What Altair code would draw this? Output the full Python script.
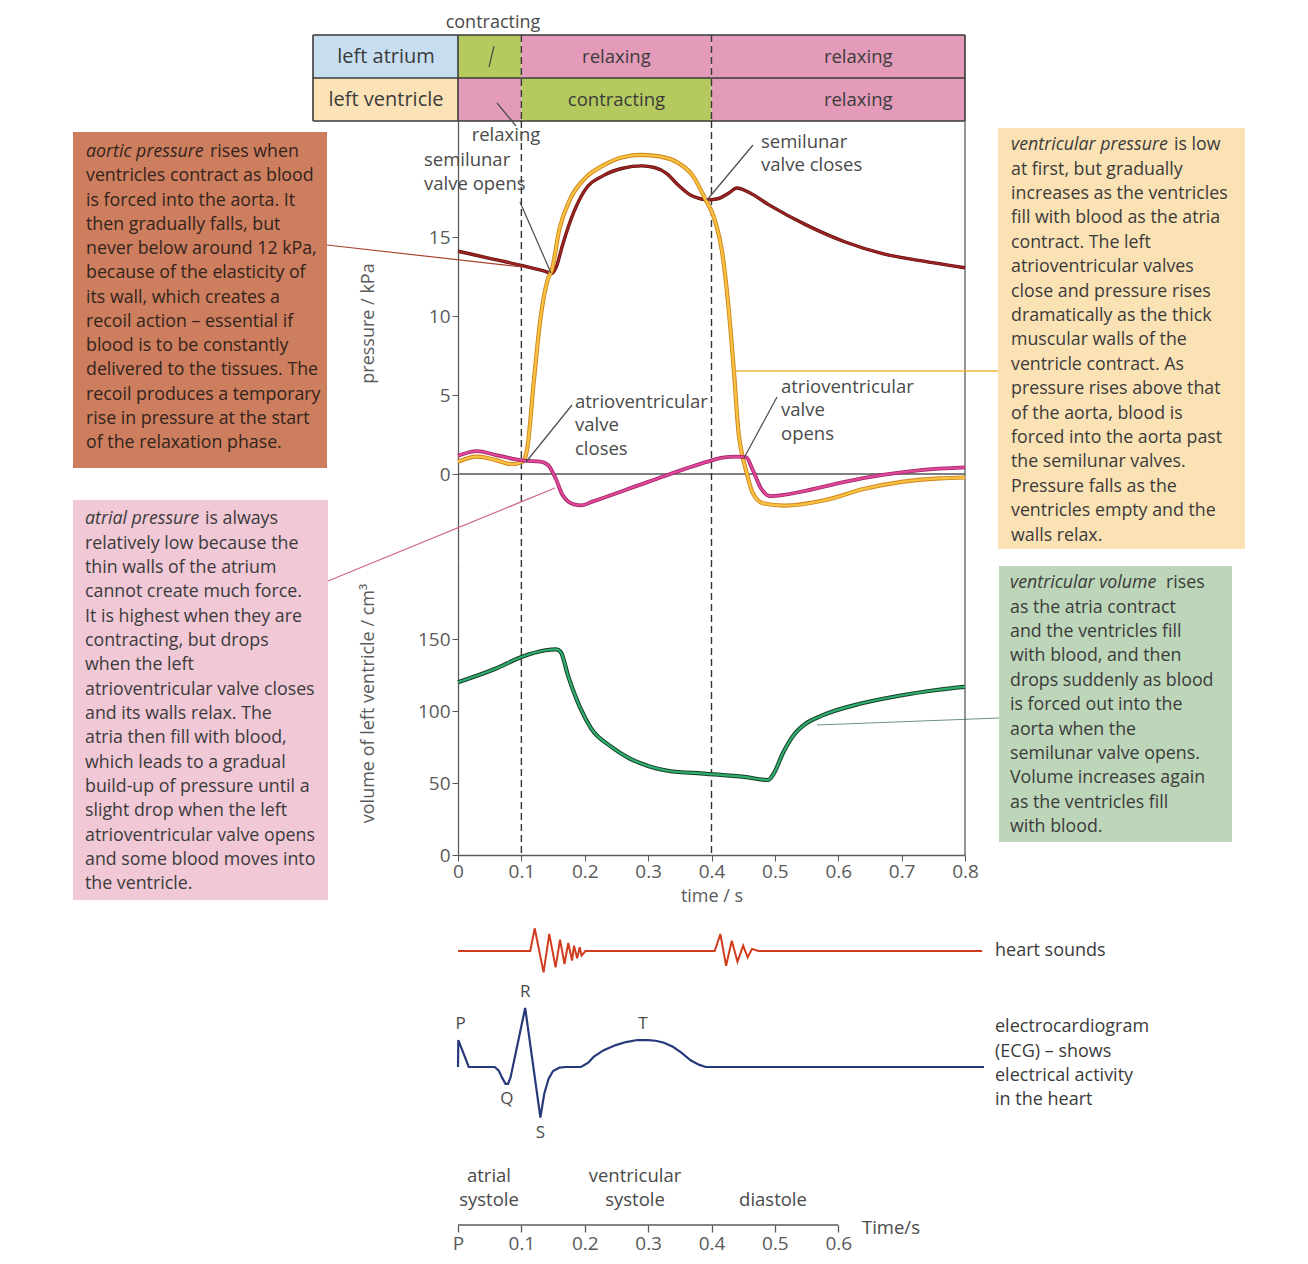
import altair as alt
import pandas as pd

FONT = "Open Sans"
TXT = "#3b3b3b"
GREY = "#4a4a4a"
AXC = "#5a5a5a"
GREEN = "#b5ca5e"
PINK = "#e39bb9"
BLUE = "#c7def1"
BEIGE = "#fce3b7"

# ---------------- data ----------------
chambers = ["left atrium", "left ventricle"]
phase_row = ["left atrium", "left atrium", "left atrium",
             "left ventricle", "left ventricle", "left ventricle"]
phase_start = [0.0, 0.1, 0.4, 0.0, 0.1, 0.4]
phase_end = [0.1, 0.4, 0.8, 0.1, 0.4, 0.8]
phase_state = ["contracting", "relaxing", "relaxing",
               "relaxing", "contracting", "relaxing"]
phase_text = ["", "relaxing", "relaxing", "", "contracting", "relaxing"]
valve_times = [0.1, 0.4]

aortic_t = [0.0, 0.05, 0.1, 0.135, 0.148, 0.155, 0.165, 0.183, 0.2, 0.23,
            0.26, 0.29, 0.31, 0.33, 0.347, 0.365, 0.382, 0.395, 0.41, 0.428,
            0.44, 0.458, 0.49, 0.55, 0.61, 0.67, 0.73, 0.8]
aortic_p = [14.1, 13.65, 13.2, 12.85, 12.7, 13.1, 14.5, 16.6, 17.95, 18.9,
            19.35, 19.5, 19.4, 19.0, 18.3, 17.7, 17.42, 17.35, 17.42, 17.8,
            18.1, 17.85, 17.05, 15.75, 14.7, 13.95, 13.5, 13.05]

vent_t = [0.0, 0.03, 0.06, 0.085, 0.1, 0.105, 0.11, 0.119, 0.13, 0.142,
          0.148, 0.16, 0.177, 0.2, 0.23, 0.26, 0.29, 0.318, 0.347, 0.37,
          0.39, 0.405, 0.417, 0.426, 0.435, 0.443, 0.449, 0.455, 0.464, 0.481,
          0.515, 0.58, 0.64, 0.7, 0.76, 0.8]
vent_p = [0.78, 1.1, 0.88, 0.62, 0.75, 0.95, 1.8, 5.6, 9.8, 12.35,
          12.9, 15.5, 17.4, 18.7, 19.55, 20.05, 20.2, 20.1, 19.7, 18.9,
          17.42, 16.1, 14.0, 10.9, 6.7, 2.5, 1.1, 0.15, -1.1, -1.85,
          -2.0, -1.65, -0.95, -0.5, -0.28, -0.22]

atrial_t = [0.0, 0.03, 0.06, 0.085, 0.104, 0.13, 0.142, 0.154, 0.165, 0.183,
            0.195, 0.212, 0.3, 0.394, 0.417, 0.44, 0.455, 0.464, 0.478, 0.493,
            0.55, 0.61, 0.67, 0.73, 0.8]
atrial_p = [1.16, 1.45, 1.2, 0.98, 0.84, 0.78, 0.57, -0.27, -1.33, -1.92,
            -1.98, -1.75, -0.5, 0.78, 1.03, 1.1, 1.05, 0.36, -0.9, -1.4,
            -1.05, -0.5, -0.06, 0.25, 0.42]

volume_t = [0.0, 0.06, 0.1, 0.138, 0.155, 0.162, 0.174, 0.192, 0.21, 0.241,
            0.271, 0.301, 0.331, 0.392, 0.452, 0.489, 0.498, 0.513, 0.531, 0.549,
            0.573, 0.634, 0.694, 0.755, 0.8]
volume_v = [120, 129.5, 137.5, 142.2, 142.8, 141, 124, 103, 88, 75.4,
            67, 61.7, 58.5, 56.4, 54.2, 52.1, 56.4, 71, 84, 91.3,
            96.6, 105, 110.4, 114.6, 116.7]

sound_t = [0.0, 0.114, 0.121, 0.135, 0.144, 0.154, 0.161, 0.168, 0.174, 0.18,
           0.183, 0.188, 0.192, 0.195, 0.201, 0.405, 0.414, 0.423, 0.432, 0.441,
           0.45, 0.457, 0.464, 0.474, 0.827]
sound_a = [0, 0, 1.08, -1.02, 0.81, -0.78, 0.54, -0.62, 0.38, -0.46,
           0.25, -0.35, 0.18, -0.22, 0, 0, 0.81, -0.7, 0.49, -0.51,
           0.25, -0.3, 0.1, 0, 0]

ecg_t = [0.0, 0.0005, 0.017, 0.058, 0.064, 0.07, 0.075, 0.079, 0.083, 0.106,
         0.130, 0.136, 0.143, 0.150, 0.160, 0.170, 0.194, 0.205, 0.214, 0.23,
         0.249, 0.265, 0.283, 0.3, 0.312, 0.325, 0.339, 0.353, 0.367, 0.38,
         0.391, 0.83]
ecg_a = [0, 0.8, 0, 0, -0.1, -0.33, -0.5, -0.5, -0.3, 1.75,
         -1.5, -0.8, -0.35, -0.12, -0.02, 0, 0, 0.12, 0.3, 0.5,
         0.65, 0.74, 0.8, 0.8, 0.78, 0.72, 0.6, 0.42, 0.2, 0.07,
         0, 0]

wave_names = ["P", "Q", "R", "S", "T"]
wave_t = [0.004, 0.077, 0.106, 0.130, 0.292]
wave_a = [0.8, -0.5, 1.75, -1.5, 0.8]

time_ticks = [0.0, 0.1, 0.2, 0.3, 0.4, 0.5, 0.6]
main_ticks = [0.0, 0.1, 0.2, 0.3, 0.4, 0.5, 0.6, 0.7, 0.8]
pressure_ticks = [0, 5, 10, 15]
volume_ticks = [0, 50, 100, 150]

aortic_lines = ["ventricles contract as blood", "is forced into the aorta. It",
                "then gradually falls, but", "never below around 12 kPa,",
                "because of the elasticity of", "its wall, which creates a",
                "recoil action \u2013 essential if", "blood is to be constantly",
                "delivered to the tissues. The", "recoil produces a temporary",
                "rise in pressure at the start", "of the relaxation phase."]
ventp_lines = ["at first, but gradually", "increases as the ventricles",
               "fill with blood as the atria", "contract. The left",
               "atrioventricular valves", "close and pressure rises",
               "dramatically as the thick", "muscular walls of the",
               "ventricle contract. As", "pressure rises above that",
               "of the aorta, blood is", "forced into the aorta past",
               "the semilunar valves.", "Pressure falls as the",
               "ventricles empty and the", "walls relax."]
ventv_lines = ["as the atria contract", "and the ventricles fill",
               "with blood, and then", "drops suddenly as blood",
               "is forced out into the", "aorta when the",
               "semilunar valve opens.", "Volume increases again",
               "as the ventricles fill", "with blood."]
atrial_lines = ["relatively low because the", "thin walls of the atrium",
                "cannot create much force.", "It is highest when they are",
                "contracting, but drops", "when the left",
                "atrioventricular valve closes", "and its walls relax. The",
                "atria then fill with blood,", "which leads to a gradual",
                "build-up of pressure until a", "slight drop when the left",
                "atrioventricular valve opens", "and some blood moves into",
                "the ventricle."]

# ---------------- layout (page pixels) ----------------
X0, W = 458, 507
Y_BAND, H_BAND = 35, 86
Y_P, H_P = Y_BAND + H_BAND, 439
Y_V, H_V = Y_P + H_P, 295
Y_S, H_S = Y_V + H_V, 135
Y_E, H_E = Y_S + H_S, 150
Y_B, H_B = Y_E + H_E, 85
P0, P_PX = 474, 15.8
V_PX = 1.44
S_BASE, S_PX = 951, 21.0
E_BASE, E_PX = 1067, 33.7

xs = alt.Scale(domain=[0, 0.8], nice=False, zero=False)
ps = alt.Scale(domain=[(P0 - Y_V) / P_PX, (P0 - Y_P) / P_PX], nice=False, zero=False)
vs = alt.Scale(domain=[0, H_V / V_PX], nice=False, zero=False)
ss = alt.Scale(domain=[(S_BASE - Y_E) / S_PX, (S_BASE - Y_S) / S_PX], nice=False, zero=False)
es = alt.Scale(domain=[(E_BASE - Y_B) / E_PX, (E_BASE - Y_E) / E_PX], nice=False, zero=False)

one = pd.DataFrame({"k": [0]})


def rect_px(o, x1, y1, x2, y2, color, **kw):
    return alt.Chart(one).mark_rect(color=color, **kw).encode(
        x=alt.value(x1 - o[0]), x2=alt.value(x2 - o[0]),
        y=alt.value(y1 - o[1]), y2=alt.value(y2 - o[1]))


def line_px(o, x1, y1, x2, y2, color, w=1.2):
    return alt.Chart(one).mark_rule(color=color, strokeWidth=w).encode(
        x=alt.value(x1 - o[0]), y=alt.value(y1 - o[1]),
        x2=alt.value(x2 - o[0]), y2=alt.value(y2 - o[1]))


def text_px(o, x, yc, lines, size=18, align="left", color=TXT, style="normal", lh=24.3):
    if isinstance(lines, str):
        lines = [lines]
    return alt.Chart(one).mark_text(
        text=lines, font=FONT, fontSize=size, align=align, baseline="top",
        color=color, fontStyle=style, lineHeight=lh).encode(
        x=alt.value(x - o[0]), y=alt.value(yc - o[1] - 0.49 * size))


valves_df = pd.DataFrame({"t": valve_times})


def valve_rules(color="#333333", xaxis=None):
    return alt.Chart(valves_df).mark_rule(color=color, strokeWidth=1.4, strokeDash=[7, 4]).encode(
        x=alt.X("t:Q", scale=xs, axis=xaxis))


def right_border(xaxis=None):
    return alt.Chart(one).mark_rule(color=AXC, strokeWidth=1.3).encode(
        x=alt.X(datum=0.8, scale=xs, axis=xaxis))


# ---------------- band panel ----------------
OB = (X0, Y_BAND)
phase_df = pd.DataFrame({"row": phase_row, "start": phase_start, "end": phase_end,
                         "state": phase_state, "label": phase_text})
chamber_df = pd.DataFrame({"row": chambers, "state": chambers})
cscale = alt.Scale(domain=["contracting", "relaxing", "left atrium", "left ventricle"],
                   range=[GREEN, PINK, BLUE, BEIGE])
rsc = alt.Scale(domain=chambers, paddingInner=0, paddingOuter=0)

band_cells = alt.Chart(phase_df).mark_rect().encode(
    x=alt.X("start:Q", scale=xs, axis=None), x2="end:Q",
    y=alt.Y("row:N", scale=rsc, axis=None),
    color=alt.Color("state:N", scale=cscale, legend=None))
chamber_cells = alt.Chart(chamber_df).mark_rect().encode(
    x=alt.value(-145), x2=alt.value(0),
    y=alt.Y("row:N", scale=rsc, axis=None),
    color=alt.Color("state:N", scale=cscale, legend=None))
chamber_text = alt.Chart(chamber_df).mark_text(font=FONT, fontSize=20, color=TXT).encode(
    x=alt.value(-72), y=alt.Y("row:N", scale=rsc, axis=None), text="row:N")
band_text_mid = alt.Chart(phase_df).transform_filter(
    "datum.label != '' && datum.end < 0.8").transform_calculate(
    mid="(datum.start + datum.end) / 2").mark_text(font=FONT, fontSize=18.5, color=TXT).encode(
    x=alt.X("mid:Q", scale=xs, axis=None), y=alt.Y("row:N", scale=rsc, axis=None), text="label:N")
band_text_end = alt.Chart(phase_df).transform_filter(
    "datum.label != '' && datum.end >= 0.8").transform_calculate(
    mid="(datum.start + datum.end) / 2").mark_text(font=FONT, fontSize=18.5, color=TXT, dx=20).encode(
    x=alt.X("mid:Q", scale=xs, axis=None), y=alt.Y("row:N", scale=rsc, axis=None), text="label:N")

LC = "#3a3a3a"
band = alt.layer(
    rect_px(OB, 8, 8, 9, 9, "white", opacity=0),
    chamber_cells, band_cells, chamber_text, band_text_mid, band_text_end,
    valve_rules(LC),
    line_px(OB, 313, 35, 965, 35, LC, 1.6),
    line_px(OB, 313, 78, 965, 78, LC, 1.6),
    line_px(OB, 313, 121, 965, 121, LC, 1.6),
    line_px(OB, 313, 35, 313, 121, LC, 1.6),
    line_px(OB, 458, 35, 458, 121, LC, 1.6),
    line_px(OB, 965, 35, 965, 121, LC, 1.6),
    text_px(OB, 493, 22.5, "contracting", 18, "center", GREY),
    line_px(OB, 494, 46, 489, 67, GREY, 1.2),
    line_px(OB, 497, 103, 516, 126, GREY, 1.2),
).properties(width=W, height=H_BAND)

# ---------------- pressure panel ----------------
OP = (X0, Y_P)
pax = alt.Axis(values=pressure_ticks, title="pressure / kPa", grid=False, tickSize=6,
               tickColor=AXC, domainColor=AXC, domainWidth=1.3, labelFontSize=19,
               labelColor=AXC, labelPadding=2, titleFontSize=18, titleFontWeight="normal",
               titleColor=AXC, titleX=-90, titleY=202, titleAngle=270,
               titleAlign="center", titleBaseline="middle")


def series_layers(t, v, field, scale, edge, main, we, wm, yaxis, xaxis=None):
    df = pd.DataFrame({"t": t, field: v})
    base = alt.Chart(df)
    e = base.mark_line(interpolate="monotone", color=edge, strokeWidth=we).encode(
        x=alt.X("t:Q", scale=xs, axis=xaxis),
        y=alt.Y(f"{field}:Q", scale=scale, axis=yaxis))
    m = base.mark_line(interpolate="monotone", color=main, strokeWidth=wm).encode(
        x=alt.X("t:Q", scale=xs, axis=xaxis),
        y=alt.Y(f"{field}:Q", scale=scale, axis=yaxis))
    return [e, m]


zero_line = alt.Chart(one).mark_rule(color="#555555", strokeWidth=1.3).encode(
    y=alt.Y(datum=0, scale=ps, axis=pax))

annot = [
    rect_px(OP, 73, 132, 327, 468, "#cd7e5e"),
    rect_px(OP, 998, 128, 1245, 549, "#fbe2b4"),
    rect_px(OP, 999, 566, 1232, 842, "#bdd6b9"),
    rect_px(OP, 73, 500, 328, 900, "#f1c8d6"),
    text_px(OP, 86, 151.7, "aortic pressure", 17.8, style="italic", color="#33241c"),
    text_px(OP, 210, 151.7, "rises when", 17.8, color="#33241c"),
    text_px(OP, 86, 176, aortic_lines, 17.8, color="#33241c", lh=24.25),
    text_px(OP, 1011, 145, "ventricular pressure", 17.8, style="italic"),
    text_px(OP, 1174, 145, "is low", 17.8),
    text_px(OP, 1011, 169.4, ventp_lines, 17.8, lh=24.4),
    text_px(OP, 1010, 583, "ventricular volume", 17.8, style="italic"),
    text_px(OP, 1166, 583, "rises", 17.8),
    text_px(OP, 1010, 607.4, ventv_lines, 17.8, lh=24.4),
    text_px(OP, 85, 519, "atrial pressure", 17.8, style="italic"),
    text_px(OP, 205, 519, "is always", 17.8),
    text_px(OP, 85, 543.3, atrial_lines, 17.8, lh=24.33),
]

pointers = [
    line_px(OP, 327, 245, 522, 267, "#a8432e", 1.2),
    line_px(OP, 735, 371, 998, 371, "#f0b43c", 1.6),
    line_px(OP, 817, 725, 999, 718, "#6f9378", 1.2),
    line_px(OP, 328, 581, 555, 488, "#d0648f", 1.2),
    line_px(OP, 520, 202, 551, 273, GREY, 1.2),
    line_px(OP, 753, 145, 707, 200, GREY, 1.2),
    line_px(OP, 572, 405, 526, 462, GREY, 1.2),
    line_px(OP, 777, 397, 744, 458, GREY, 1.2),
    text_px(OP, 506, 135, "relaxing", 18.5, "center", GREY),
    text_px(OP, 424, 160, ["semilunar", "valve opens"], 18.5, color=GREY, lh=24),
    text_px(OP, 761, 141.7, ["semilunar", "valve closes"], 18.5, color=GREY, lh=23.5),
    text_px(OP, 575, 401.7, ["atrioventricular", "valve", "closes"], 18.5, color=GREY, lh=23.5),
    text_px(OP, 781, 386.7, ["atrioventricular", "valve", "opens"], 18.5, color=GREY, lh=23.5),
]

pres_lines = (series_layers(aortic_t, aortic_p, "p", ps, "#5c0f0f", "#9a2321", 3.4, 2.2, pax)
              + series_layers(vent_t, vent_p, "p", ps, "#d08418", "#f7c244", 4.2, 2.4, pax)
              + series_layers(atrial_t, atrial_p, "p", ps, "#9e2462", "#e0479a", 3.8, 2.2, pax))

pressure = alt.layer(
    *annot, zero_line, valve_rules(), right_border(), *pres_lines, *pointers
).properties(width=W, height=H_P)

# ---------------- volume panel ----------------
vax = alt.Axis(values=volume_ticks, title="volume of left ventricle / cm\u00b3", grid=False,
               tickSize=6, tickColor=AXC, domainColor=AXC, domainWidth=1.3, labelFontSize=19,
               labelColor=AXC, labelPadding=2, titleFontSize=18, titleFontWeight="normal",
               titleColor=AXC, titleX=-90, titleY=143, titleAngle=270,
               titleAlign="center", titleBaseline="middle")
xax = alt.Axis(values=main_ticks, title="time / s", grid=False, tickSize=6, tickColor=AXC,
               domainColor=AXC, domainWidth=1.3, labelFontSize=19, labelColor=AXC,
               labelPadding=1, labelFlush=False,
               labelExpr="datum.value == 0 ? '0' : format(datum.value, '.1f')",
               titleFontSize=18, titleFontWeight="normal", titleColor=AXC, titlePadding=6)
vol_layers = series_layers(volume_t, volume_v, "v", vs, "#163f28", "#2fae6e", 4.2, 2.2, vax, xax)
volume = alt.layer(vol_layers[0], valve_rules(xaxis=xax), right_border(xax), vol_layers[1]).properties(
    width=W, height=H_V)

# ---------------- heart sounds ----------------
OS = (X0, Y_S)
snd_df = pd.DataFrame({"t": sound_t, "a": sound_a})
snd_line = alt.Chart(snd_df).mark_line(color="#d23c1e", strokeWidth=2).encode(
    x=alt.X("t:Q", scale=xs, axis=None), y=alt.Y("a:Q", scale=ss, axis=None))
sounds = alt.layer(snd_line, text_px(OS, 995, 951, "heart sounds", 18)).properties(width=W, height=H_S)

# ---------------- ECG ----------------
OE = (X0, Y_E)
ecg_df = pd.DataFrame({"t": ecg_t, "a": ecg_a})
wave_df = pd.DataFrame({"name": wave_names, "t": wave_t, "a": wave_a})
ecg_line = alt.Chart(ecg_df).mark_line(color="#27397a", strokeWidth=2.2).encode(
    x=alt.X("t:Q", scale=xs, axis=None), y=alt.Y("a:Q", scale=es, axis=None))
wave_up = alt.Chart(wave_df).transform_filter("datum.a > 0").mark_text(
    font=FONT, fontSize=17, color=GREY, dy=-16).encode(
    x=alt.X("t:Q", scale=xs, axis=None), y=alt.Y("a:Q", scale=es, axis=None), text="name:N")
wave_dn = alt.Chart(wave_df).transform_filter("datum.a < 0").mark_text(
    font=FONT, fontSize=17, color=GREY, dy=15).encode(
    x=alt.X("t:Q", scale=xs, axis=None), y=alt.Y("a:Q", scale=es, axis=None), text="name:N")
ecg = alt.layer(
    ecg_line, wave_up, wave_dn,
    text_px(OE, 995, 1027, ["electrocardiogram", "(ECG) \u2013 shows", "electrical activity",
                            "in the heart"], 18, lh=24.4),
).properties(width=W, height=H_E)

# ---------------- bottom time axis ----------------
OBT = (X0, Y_B)
bax = alt.Axis(values=time_ticks, domain=False, grid=False, tickSize=7, tickColor=AXC,
               tickWidth=1.3, labelFontSize=19, labelColor=AXC, labelPadding=2,
               labelFlush=False,
               labelExpr="datum.value == 0 ? 'P' : format(datum.value, '.1f')", title=None)
bot_line = alt.Chart(one).mark_rule(color=AXC, strokeWidth=1.3).encode(
    x=alt.X(datum=0.0, scale=xs, axis=bax), x2=alt.X2(datum=0.6), y=alt.value(H_B))
bottom = alt.layer(
    bot_line,
    text_px(OBT, 489, 1176.5, ["atrial", "systole"], 18.5, "center", GREY, lh=23.5),
    text_px(OBT, 635, 1176.5, ["ventricular", "systole"], 18.5, "center", GREY, lh=23.5),
    text_px(OBT, 773, 1200, "diastole", 18.5, "center", GREY),
    text_px(OBT, 862, 1228, "Time/s", 18.5, "left", GREY),
).properties(width=W, height=H_B)

chart = alt.vconcat(
    band, pressure, volume, sounds, ecg, bottom, spacing=0, bounds="flush"
).properties(padding={"left": 0, "top": 0, "right": 5, "bottom": 12}).configure(
    font=FONT).configure_view(stroke=None)

chart.save("out.html", embed_options={"renderer": "svg", "actions": False})
